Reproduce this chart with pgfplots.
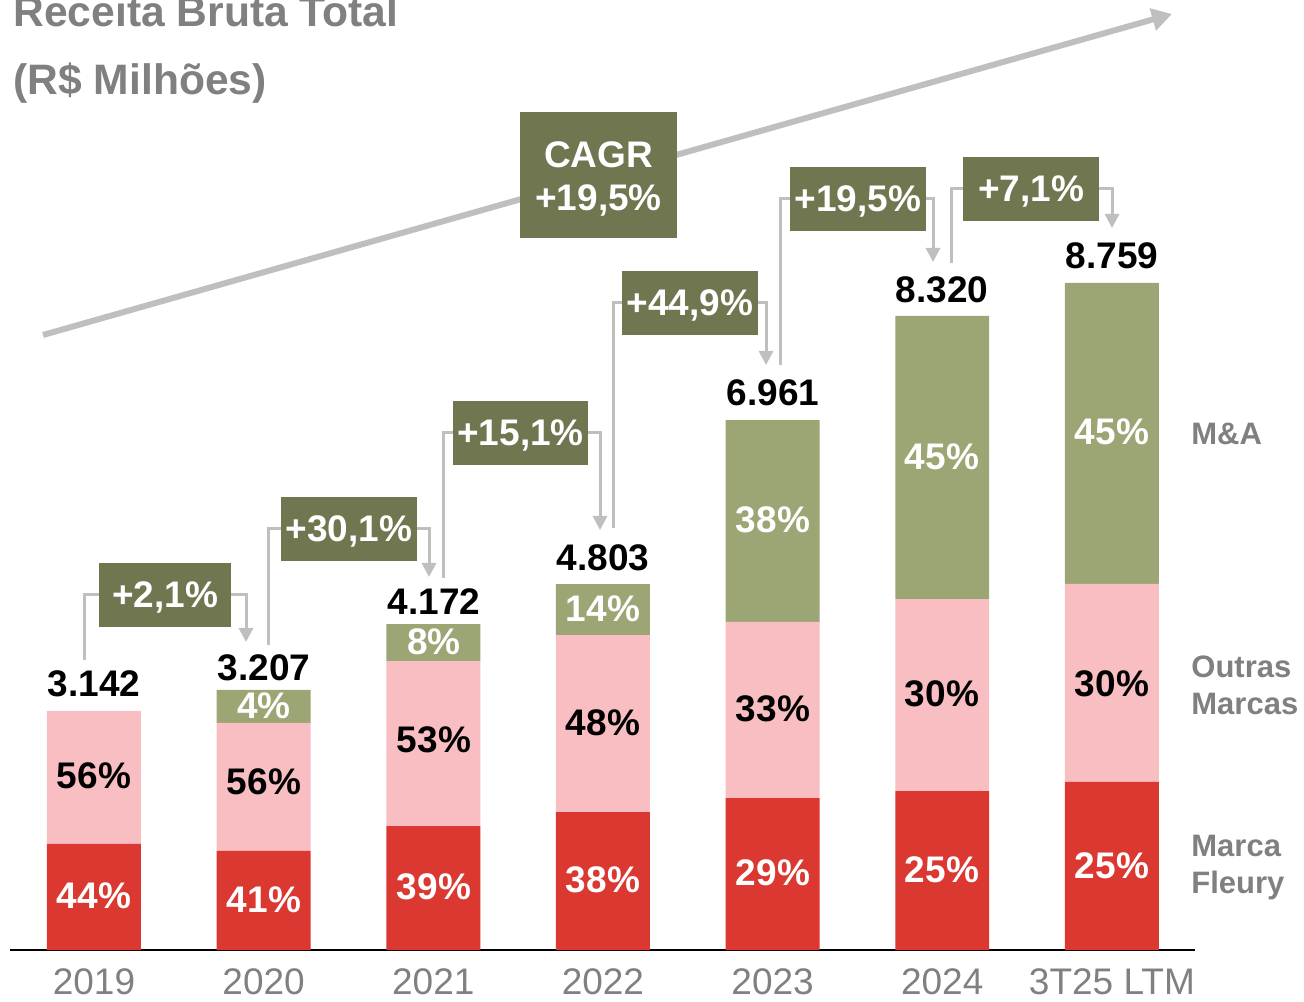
\documentclass[border=0pt]{standalone}
\usepackage{pgfplots}
\pgfplotsset{compat=1.18}
\usepackage{pgfplotstable}
\usepackage{fontspec}
\setmainfont{Liberation Sans}
\usetikzlibrary{arrows.meta}
\definecolor{cRed}{RGB}{218,56,48}
\definecolor{cPink}{RGB}{248,190,193}
\definecolor{cGreen}{RGB}{156,165,116}
\definecolor{cBox}{RGB}{111,118,80}
\definecolor{cGray}{RGB}{128,128,128}
\definecolor{cLine}{RGB}{191,191,191}
\newcommand{\lab}{\fontsize{18.5pt}{21.5pt}\selectfont\bfseries}
\newcommand{\side}{\fontsize{15.5pt}{18.5pt}\selectfont\bfseries}
\pgfplotstableread{
x fleury outras ma
0 1393 1748 0
1 1301 1682 434
2 1629 2168 486
3 1813 2326 670
4 1997 2313 2654
5 2089 2523 3719
6 2208 2602 3955
}\data
\begin{document}
\begin{tikzpicture}
\path[use as bounding box] (0,0) rectangle (652pt,500.5pt);
\begin{axis}[
  at={(5pt,25.5pt)}, anchor=south west,
  scale only axis, width=592.5pt, height=475pt,
  xmin=-0.495, xmax=6.49, ymin=0, ymax=12483,
  ybar stacked, bar width=0.554,
  hide y axis,
  axis x line*=bottom,
  x axis line style={line width=1pt, black},
  xtick={0,1,2,3,4,5,6},
  xticklabels={2019,2020,2021,2022,2023,2024,3T25 LTM},
  major tick length=0pt,
  xticklabel style={font=\fontsize{18.5pt}{21pt}\selectfont, text=cGray, inner sep=0pt, anchor=north, yshift=-9.3pt},
  clip=false,
]
\addplot[fill=cRed,draw=none] table[x=x,y=fleury]{\data};
\addplot[fill=cPink,draw=none] table[x=x,y=outras]{\data};
\addplot[fill=cGreen,draw=none] table[x=x,y=ma]{\data};
\end{axis}
\begin{scope}[x=0.5pt,y=-0.5pt,shift={(0pt,500.5pt)}]
% title
\node[anchor=base west, inner sep=0pt, text=cGray, font=\fontsize{21.3pt}{24pt}\selectfont\bfseries] at (13,27) {Receita Bruta Total};
\node[anchor=base west, inner sep=0pt, text=cGray, font=\fontsize{21.3pt}{24pt}\selectfont\bfseries] at (13,95) {(R\$ Milhões)};
% CAGR arrow
\draw[cLine, line width=3pt, -{Triangle[width=11pt,length=10pt]}] (43,335) -- (1172,14);
% connectors
\begin{scope}[cLine, line width=1.5pt]
\draw (84,660) -- (84,595) -- (99,595);
\draw[-{Triangle[width=7pt,length=7pt]}] (231,595) -- (246,595) -- (246,642);
\draw (268,645) -- (268,529) -- (281,529);
\draw[-{Triangle[width=7pt,length=7pt]}] (417,529) -- (429,529) -- (429,577);
\draw (443,578) -- (443,433) -- (453,433);
\draw[-{Triangle[width=7pt,length=7pt]}] (588,433) -- (600,433) -- (600,530);
\draw (613,528) -- (613,303) -- (622,303);
\draw[-{Triangle[width=7pt,length=7pt]}] (758,303) -- (766,303) -- (766,365);
\draw (780,365) -- (780,199) -- (790,199);
\draw[-{Triangle[width=7pt,length=7pt]}] (926,199) -- (933,199) -- (933,262);
\draw (951,263) -- (951,189) -- (963,189);
\draw[-{Triangle[width=7pt,length=7pt]}] (1099,189) -- (1112,189) -- (1112,228);
\end{scope}
% growth boxes
\begin{scope}[every node/.style={fill=cBox, text=white, inner sep=0pt, font=\lab, minimum height=32pt, text depth=0pt}]
\node[minimum width=66pt] at (165,595) {+2,1\%};
\node[minimum width=68pt] at (349,529) {+30,1\%};
\node[minimum width=67.5pt] at (520.5,433) {+15,1\%};
\node[minimum width=68pt] at (690,303) {+44,9\%};
\node[minimum width=68pt] at (858,199) {+19,5\%};
\node[minimum width=68pt] at (1031,189) {+7,1\%};
\node[minimum width=78.5pt, minimum height=63pt] at (598.5,175) {};
\end{scope}
\node[text=white, inner sep=0pt, font=\fontsize{18.5pt}{21.5pt}\selectfont\bfseries, align=center] at (598.5,179) {CAGR\\+19,5\%};
% totals
\begin{scope}[every node/.style={font=\lab, inner sep=0pt}]
\node at (94,684) {3.142};
\node at (264,668) {3.207};
\node at (434,602) {4.172};
\node at (603,558) {4.803};
\node at (773,393) {6.961};
\node at (942,290) {8.320};
\node at (1112,256) {8.759};
\end{scope}
% percentages
\begin{scope}[every node/.style={font=\lab, inner sep=0pt, text=white}]
\node at (94,896) {44\%};
\node at (264,706) {4\%};
\node at (264,900) {41\%};
\node at (434,642) {8\%};
\node at (434,887) {39\%};
\node at (603,609) {14\%};
\node at (603,880) {38\%};
\node at (773,520) {38\%};
\node at (773,873) {29\%};
\node at (942,457) {45\%};
\node at (942,870) {25\%};
\node at (1112,432) {45\%};
\node at (1112,866) {25\%};
\end{scope}
\begin{scope}[every node/.style={font=\lab, inner sep=0pt, text=black}]
\node at (94,776) {56\%};
\node at (264,782) {56\%};
\node at (434,740) {53\%};
\node at (603,723) {48\%};
\node at (773,709) {33\%};
\node at (942,694) {30\%};
\node at (1112,684) {30\%};
\end{scope}
% side labels
\begin{scope}[every node/.style={font=\side, inner sep=0pt, text=cGray, anchor=west, align=left}]
\node at (1191,434) {M\&A};
\node at (1191,685) {Outras\\Marcas};
\node at (1191,868) {Marca\\Fleury};
\end{scope}
\end{scope}
\end{tikzpicture}
\end{document}
